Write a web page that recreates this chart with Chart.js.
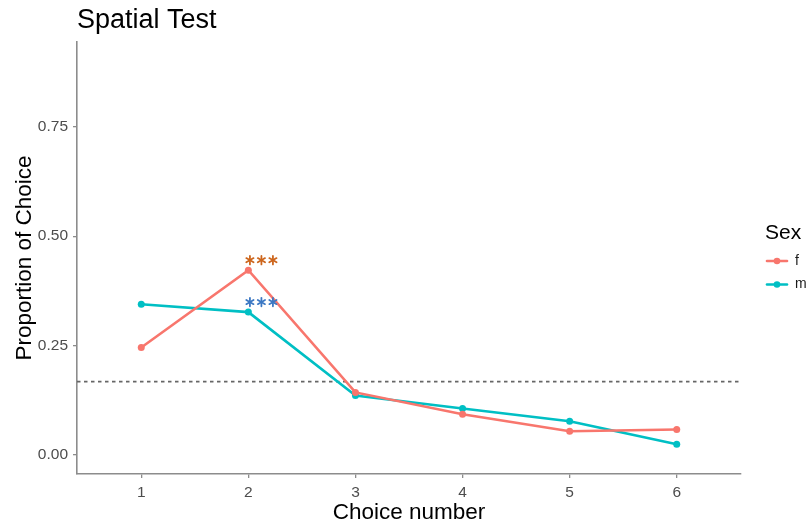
<!DOCTYPE html>
<html>
<head>
<meta charset="utf-8">
<title>Spatial Test</title>
<script src="https://cdn.jsdelivr.net/npm/chart.js@4/dist/chart.umd.min.js"></script>
<style>
  html, body { margin: 0; padding: 0; background: #ffffff; }
  canvas { display: block; }
</style>
</head>
<body>
<canvas id="chart" width="807" height="524"></canvas>
<script>
// Proportion of choices per choice number, by sex
const choices = [1, 2, 3, 4, 5, 6];
const female = [0.245, 0.422, 0.142, 0.092, 0.053, 0.057];
const male = [0.344, 0.326, 0.135, 0.105, 0.076, 0.023];
const yTicks = [0, 0.25, 0.5, 0.75];
const chanceLevel = 1 / 6;
// significance marks at choice 2
const sigChoice = 2;

const FONT = '"Liberation Sans", Arial, Helvetica, sans-serif';
const colF = '#F8766D';
const colM = '#00BFC4';

const series = [
  { name: 'f', values: female, color: colF, sigColor: '#CD661D' },
  { name: 'm', values: male, color: colM, sigColor: '#3C78C3' }
];

function drawAsterisk(ctx, cx, cy, r) {
  for (let k = 0; k < 3; k++) {
    const a = Math.PI / 2 + k * Math.PI / 3;
    ctx.beginPath();
    ctx.moveTo(cx - r * Math.cos(a), cy - r * Math.sin(a));
    ctx.lineTo(cx + r * Math.cos(a), cy + r * Math.sin(a));
    ctx.stroke();
  }
}

const decorations = {
  id: 'decorations',
  beforeDatasetsDraw(chart) {
    const { ctx, chartArea, scales } = chart;
    // chance level reference line
    const yc = scales.y.getPixelForValue(chanceLevel);
    ctx.save();
    ctx.strokeStyle = '#666666';
    ctx.lineWidth = 1.6;
    ctx.setLineDash([3.5, 3.5]);
    ctx.beginPath();
    ctx.moveTo(chartArea.left, yc);
    ctx.lineTo(chartArea.right, yc);
    ctx.stroke();
    ctx.restore();
  },
  afterDatasetsDraw(chart) {
    const { ctx, chartArea, scales } = chart;
    ctx.save();
    // significance asterisks above each series at choice 2
    const idx = choices.indexOf(sigChoice);
    series.forEach(s => {
      const px = scales.x.getPixelForValue(sigChoice + 0.122);
      const py = scales.y.getPixelForValue(s.values[idx] + 0.023);
      ctx.strokeStyle = s.sigColor;
      ctx.lineWidth = 1.8;
      ctx.lineCap = 'round';
      for (let j = -1; j <= 1; j++) drawAsterisk(ctx, px + j * 11.5, py, 4.2);
    });

    // title
    ctx.fillStyle = '#000000';
    ctx.textAlign = 'left';
    ctx.textBaseline = 'alphabetic';
    ctx.font = '27px ' + FONT;
    ctx.fillText('Spatial Test', chartArea.left, 28);

    // axis titles
    ctx.font = '22.5px ' + FONT;
    ctx.textAlign = 'center';
    ctx.fillText('Choice number', (chartArea.left + chartArea.right) / 2, 519);
    ctx.save();
    ctx.translate(31, (chartArea.top + chartArea.bottom) / 2);
    ctx.rotate(-Math.PI / 2);
    ctx.fillText('Proportion of Choice', 0, 0);
    ctx.restore();

    // legend
    ctx.textAlign = 'left';
    ctx.font = '21px ' + FONT;
    ctx.fillText('Sex', 765, 239);
    ctx.font = '14px ' + FONT;
    series.forEach((s, i) => {
      const ky = 261 + i * 23.5;
      ctx.strokeStyle = s.color;
      ctx.lineWidth = 2.6;
      ctx.beginPath();
      ctx.moveTo(767, ky);
      ctx.lineTo(787, ky);
      ctx.stroke();
      ctx.fillStyle = s.color;
      ctx.beginPath();
      ctx.arc(777, ky, 3.3, 0, Math.PI * 2);
      ctx.fill();
      ctx.fillStyle = '#1a1a1a';
      ctx.textBaseline = 'middle';
      ctx.fillText(s.name, 795, ky);
    });
    ctx.restore();
  }
};

new Chart(document.getElementById('chart'), {
  type: 'line',
  data: {
    datasets: series.map(s => ({
      label: s.name,
      data: choices.map((c, i) => ({ x: c, y: s.values[i] })),
      borderColor: s.color,
      backgroundColor: s.color,
      borderWidth: 2.6,
      pointRadius: 3.5,
      pointBorderWidth: 0,
      pointHoverRadius: 3.5,
      tension: 0,
      fill: false
    }))
  },
  options: {
    responsive: false,
    devicePixelRatio: 1,
    animation: false,
    layout: { padding: { top: 42, right: 66, left: 0, bottom: 0 } },
    plugins: {
      legend: { display: false },
      title: { display: false },
      tooltip: { enabled: false }
    },
    scales: {
      x: {
        type: 'linear',
        min: 0.4,
        max: 6.6,
        afterBuildTicks(scale) { scale.ticks = choices.map(v => ({ value: v })); },
        afterFit(scale) { scale.height = 50; },
        ticks: {
          color: '#4d4d4d',
          font: { family: FONT, size: 15.5 },
          padding: 5,
          callback: v => String(v)
        },
        grid: { drawOnChartArea: false, drawTicks: true, tickLength: 4, color: '#8c8c8c', lineWidth: 1.3 },
        border: { display: true, color: '#8c8c8c', width: 1.6 }
      },
      y: {
        type: 'linear',
        min: -0.045,
        max: 0.945,
        afterBuildTicks(scale) { scale.ticks = yTicks.map(v => ({ value: v })); },
        afterFit(scale) { scale.width = 77; },
        ticks: {
          color: '#4d4d4d',
          font: { family: FONT, size: 15.5 },
          padding: 5,
          callback: v => Number(v).toFixed(2)
        },
        grid: { drawOnChartArea: false, drawTicks: true, tickLength: 4, color: '#8c8c8c', lineWidth: 1.3 },
        border: { display: true, color: '#8c8c8c', width: 1.6 }
      }
    }
  },
  plugins: [decorations]
});
</script>
</body>
</html>
